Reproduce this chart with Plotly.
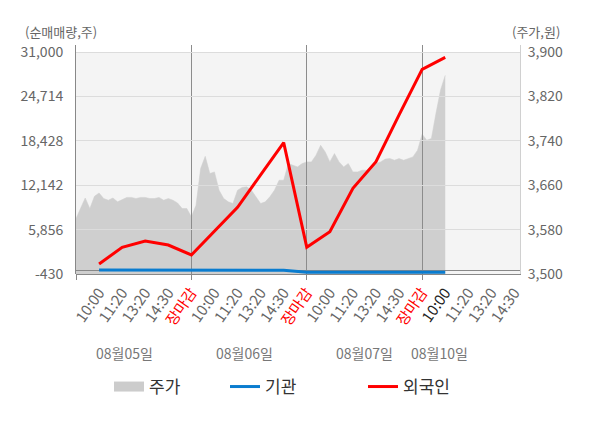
import plotly.graph_objects as go

# 날짜 / 시간 슬롯
days = ["08월05일", "08월06일", "08월07일", "08월10일"]
slot_labels = ["10:00", "11:20", "13:20", "14:30", "장마감"]

# 주가 (원) - 슬롯 0.2 간격으로 읽은 값
price_day1 = [3600, 3618, 3637, 3618, 3640, 3646, 3636, 3633, 3637, 3630,
              3634, 3638, 3638, 3636, 3638, 3638, 3636, 3636, 3638, 3633,
              3636, 3633, 3628, 3618, 3618]
price_day2 = [3603, 3624, 3690, 3712, 3681, 3684, 3651, 3636, 3630, 3627,
              3651, 3656, 3657, 3651, 3639, 3627, 3630, 3639, 3651, 3669,
              3669, 3699, 3696, 3693, 3699]
price_day3 = [3702, 3702, 3714, 3732, 3720, 3702, 3717, 3702, 3693, 3699,
              3684, 3684, 3687, 3687, 3690, 3699, 3702, 3707, 3708, 3705,
              3708, 3705, 3708, 3711, 3723]
price_day4 = [3752, 3741, 3744, 3790, 3832, 3858]

# 순매매량 (주), 슬롯 1..16
foreign = [985, 3350, 4240, 3675, 2260, 5590, 9010, 13590, 18160,
           3350, 5560, 11700, 15470, 22100, 28550, 30250]
inst = [130, 130, 130, 130, 130, 130, 130, 130, 110,
        -180, -180, -180, -180, -180, -180, -180]

vol_ticks = [-430, 5856, 12142, 18428, 24714, 31000]
price_ticks = [3500, 3580, 3660, 3740, 3820, 3900]

price = price_day1 + price_day2 + price_day3 + price_day4
step = 0.2
price_x = [round(i * step, 2) for i in range(len(price))]
flow_x = list(range(1, len(foreign) + 1))

# x축 라벨
ticktext = []
for d in range(len(days)):
    labels = slot_labels if d < len(days) - 1 else slot_labels[:4]
    for lab in labels:
        if lab == "장마감":
            ticktext.append('<span style="color:#ff0000">장마감</span>')
        elif d == len(days) - 1 and lab == "10:00":
            ticktext.append('<span style="color:#222222">10:00</span>')
        else:
            ticktext.append(lab)
tickvals = list(range(1, len(ticktext) + 1))
day_bounds = [0] + [i for i, t in zip(tickvals, ticktext) if "장마감" in t]
date_pos = [2.12, 7.32, 12.52, 15.77]
xrange = [0, 19.24]

# 축선은 배경보다 살짝 위까지 올라감
plot_h = 229
bg_h = 222
head = plot_h / bg_h
vol_range = [-430, -430 + (31000 + 430) * head]
price_range = [3500, 3500 + 400 * head]

fig = go.Figure()

fig.add_trace(go.Scatter(
    x=price_x, y=price, xaxis="x", yaxis="y",
    mode="lines", fill="tozeroy", fillcolor="#cfcfcf",
    line=dict(color="#cfcfcf", width=0.5),
    showlegend=False, hoverinfo="skip",
))
fig.add_trace(go.Scatter(
    x=[None], y=[None], xaxis="x", yaxis="y", mode="lines",
    line=dict(color="#cccccc", width=13), name="주가", legend="legend",
))
fig.add_trace(go.Scatter(
    x=flow_x, y=inst, xaxis="x2", yaxis="y2", mode="lines",
    line=dict(color="#0a7ccf", width=3), name="기관", legend="legend2",
))
fig.add_trace(go.Scatter(
    x=flow_x, y=foreign, xaxis="x2", yaxis="y2", mode="lines",
    line=dict(color="#ff0000", width=3), name="외국인", legend="legend3",
))

legend_style = dict(
    orientation="h", y=-0.4934, yanchor="middle", xanchor="left",
    font=dict(size=17, color="#333333"), bgcolor="rgba(0,0,0,0)",
)

fig.update_layout(
    width=592, height=420,
    margin=dict(l=68, r=80, t=37, b=154),
    paper_bgcolor="white",
    plot_bgcolor="rgba(0,0,0,0)",
    font=dict(family="Noto Sans CJK KR", size=14, color="#666666"),
    xaxis=dict(
        anchor="y", range=xrange, tickvals=tickvals, ticktext=ticktext,
        tickangle=-55, showgrid=False, zeroline=False, ticks="",
        showline=True, linecolor="#888888", automargin=False,
        ticklabelstandoff=3,
        tickfont=dict(size=15, color="#666666"),
    ),
    yaxis=dict(
        anchor="x", side="right", range=price_range,
        tickvals=price_ticks, ticktext=[f"{v:,}" for v in price_ticks],
        showgrid=False, zeroline=False, showline=True,
        linecolor="#d0d0d0", ticklabelstandoff=4, automargin=False,
    ),
    xaxis2=dict(
        anchor="y2", range=xrange, tickvals=day_bounds,
        showticklabels=False, ticks="outside", ticklen=5,
        tickcolor="#888888", showgrid=True, gridcolor="#8c8c8c",
        zeroline=False, automargin=False,
    ),
    yaxis2=dict(
        anchor="x2", side="left", range=vol_range,
        tickvals=vol_ticks, ticktext=[f"{v:,}" for v in vol_ticks],
        showgrid=True, gridcolor="#dcdcdc", zeroline=True,
        zerolinecolor="#888888", zerolinewidth=1, showline=True,
        linecolor="#888888", ticklabelstandoff=9, automargin=False,
    ),
    legend=dict(legend_style, x=0.0743),
    legend2=dict(legend_style, x=0.3356),
    legend3=dict(legend_style, x=0.6464),
    shapes=[dict(
        type="rect", xref="paper", yref="paper", x0=0, x1=1,
        y0=0, y1=1 / head,
        fillcolor="#f4f4f4", line=dict(width=0), layer="below",
    )],
)

for name, pos in zip(days, date_pos):
    fig.add_annotation(
        x=pos, xref="x", y=-0.345, yref="paper", text=name,
        xanchor="center", yanchor="middle",
        showarrow=False, font=dict(size=14, color="#777777"),
    )

fig.add_annotation(x=-0.034, xref="paper", y=1.0568, yref="paper",
                   text="(순매매량,주)", showarrow=False,
                   xanchor="center", yanchor="middle",
                   font=dict(size=13, color="#666666"))
fig.add_annotation(x=1.036, xref="paper", y=1.0568, yref="paper",
                   text="(주가,원)", showarrow=False,
                   xanchor="center", yanchor="middle",
                   font=dict(size=13, color="#666666"))

fig.write_html("out.html")
